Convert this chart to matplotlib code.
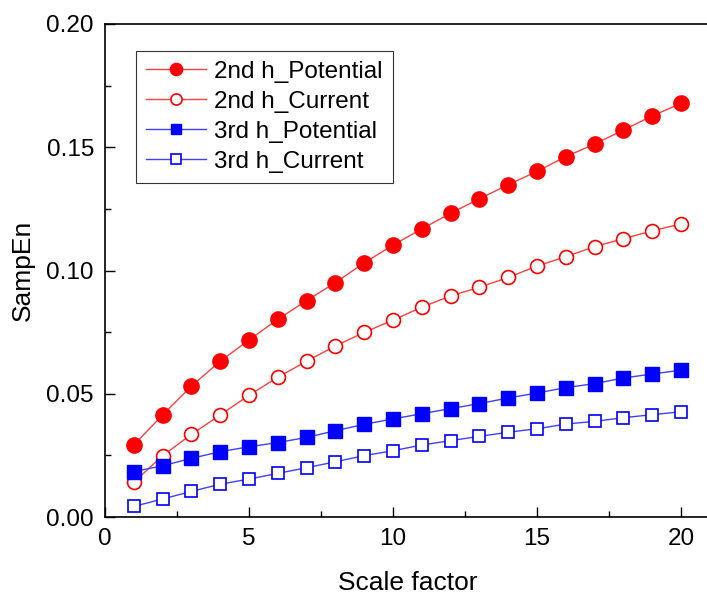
import matplotlib
matplotlib.use("Agg")
import matplotlib.pyplot as plt
from matplotlib.ticker import MultipleLocator, FormatStrFormatter

plt.rcParams["font.family"] = ["Liberation Sans", "DejaVu Sans"]

scale = list(range(1, 21))
pot_2nd = [0.0292, 0.0414, 0.0531, 0.0632, 0.0718, 0.0802, 0.0878, 0.0951, 0.1031, 0.1103,
           0.1169, 0.1232, 0.1291, 0.1348, 0.1402, 0.1462, 0.1513, 0.1570, 0.1627, 0.1678]
cur_2nd = [0.0141, 0.0249, 0.0335, 0.0414, 0.0494, 0.0567, 0.0632, 0.0694, 0.0749, 0.0799,
           0.0851, 0.0897, 0.0932, 0.0972, 0.1018, 0.1056, 0.1097, 0.1129, 0.1161, 0.1189]
pot_3rd = [0.0184, 0.0208, 0.0238, 0.0265, 0.0285, 0.0302, 0.0323, 0.0350, 0.0376, 0.0398,
           0.0419, 0.0440, 0.0460, 0.0483, 0.0503, 0.0525, 0.0541, 0.0564, 0.0580, 0.0596]
cur_3rd = [0.0043, 0.0073, 0.0104, 0.0133, 0.0154, 0.0177, 0.0200, 0.0224, 0.0249, 0.0269,
           0.0292, 0.0310, 0.0327, 0.0344, 0.0358, 0.0377, 0.0388, 0.0403, 0.0415, 0.0427]

fig = plt.figure(figsize=(7.07, 5.94), dpi=100)
ax = fig.add_axes([0.1485, 0.1296, 0.8555, 0.830])

ax.plot(scale, pot_2nd, color="#ff4040", lw=1.0, marker="o", ms=11,
        mfc="red", mec="red", label="2nd h_Potential")
ax.plot(scale, cur_2nd, color="#ff4040", lw=1.0, marker="o", ms=10,
        mfc="white", mec="red", mew=1.2, label="2nd h_Current")
ax.plot(scale, pot_3rd, color="#4040ff", lw=1.0, marker="s", ms=9.5,
        mfc="blue", mec="blue", label="3rd h_Potential")
ax.plot(scale, cur_3rd, color="#4040ff", lw=1.0, marker="s", ms=9,
        mfc="white", mec="blue", mew=1.2, label="3rd h_Current")

ax.set_xlim(0, 21)
ax.set_ylim(0, 0.20)
ax.xaxis.set_major_locator(MultipleLocator(5))
ax.xaxis.set_minor_locator(MultipleLocator(2.5))
ax.yaxis.set_major_locator(MultipleLocator(0.05))
ax.yaxis.set_minor_locator(MultipleLocator(0.025))
ax.yaxis.set_major_formatter(FormatStrFormatter("%.2f"))
ax.tick_params(which="major", direction="in", length=7, width=1, labelsize=17.5, pad=8)
ax.tick_params(which="minor", direction="in", length=4, width=1)
for s in ax.spines.values():
    s.set_linewidth(1.2)
ax.spines["right"].set_visible(False)

ax.set_xlabel("Scale factor", fontsize=19, labelpad=15)
ax.set_ylabel("SampEn", fontsize=19, labelpad=8)

leg = ax.legend(loc="upper left", bbox_to_anchor=(0.051, 0.945), fontsize=17.5,
                frameon=True, fancybox=False, edgecolor="black", handlelength=2.5,
                labelspacing=0.33, borderpad=0.4, handletextpad=0.33, borderaxespad=0,
                markerscale=0.8)
leg.get_frame().set_linewidth(0.8)

fig.savefig("out.png", dpi=100, facecolor="white")
